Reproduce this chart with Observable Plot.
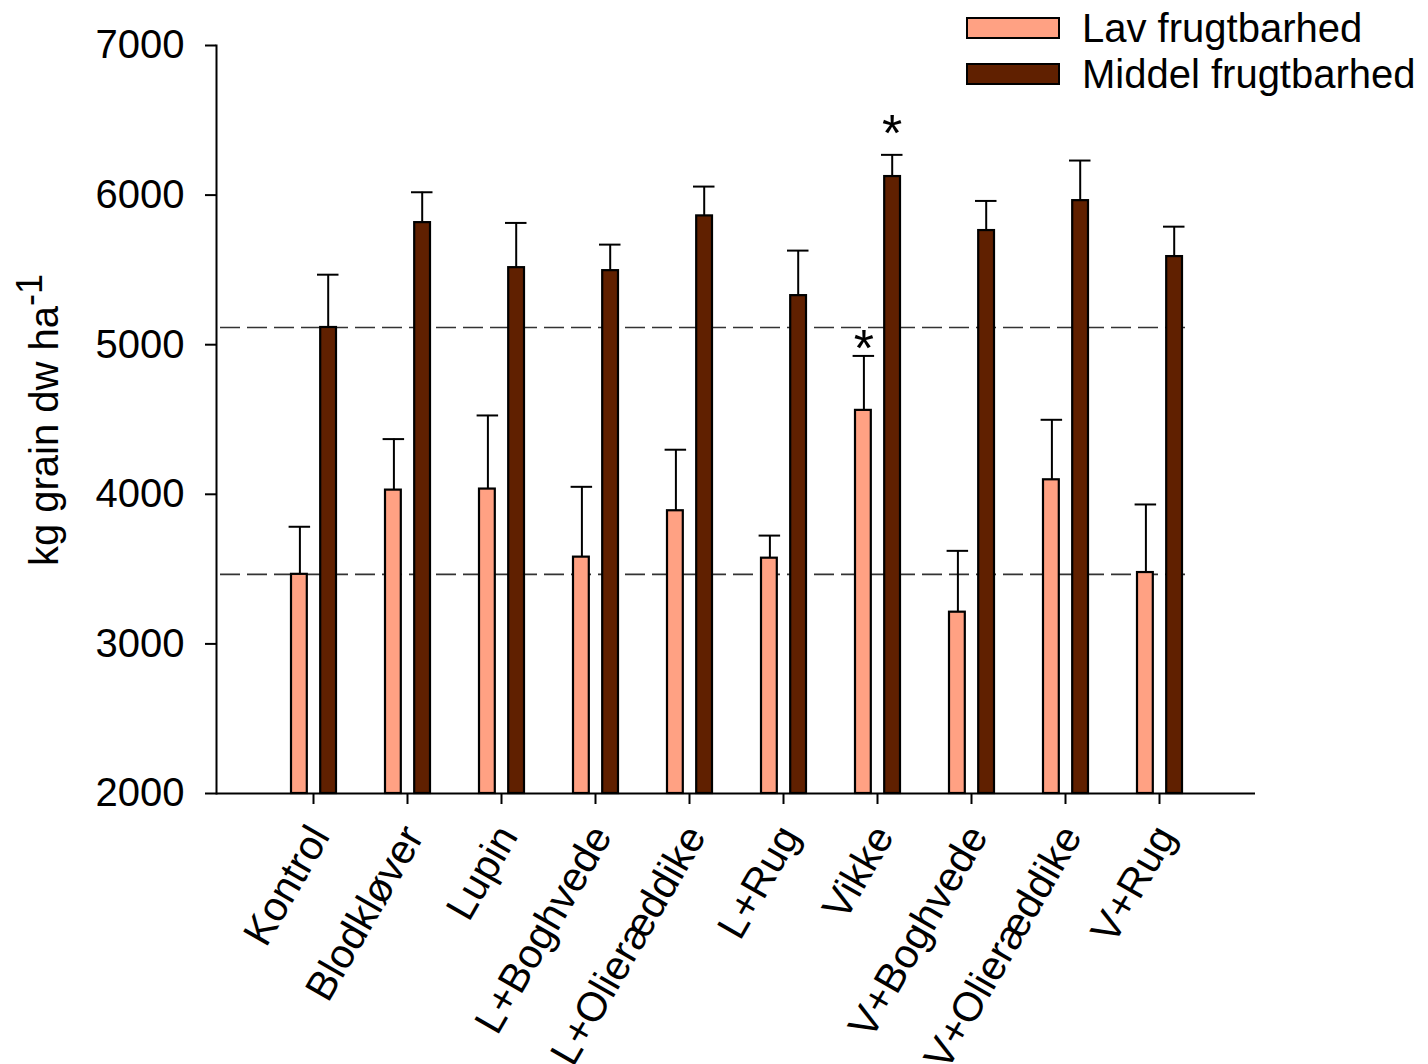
<!DOCTYPE html>
<html><head><meta charset="utf-8">
<script src="https://cdn.jsdelivr.net/npm/d3@7"></script>
<script src="https://cdn.jsdelivr.net/npm/@observablehq/plot@0.6"></script>
<style>
body{margin:0;background:#fff;font-family:"Liberation Sans",Arial,sans-serif;}
#wrap{position:relative;width:1428px;height:1064px;overflow:hidden;}
#legend{position:absolute;left:966px;top:5px;font-size:40px;color:#000;}
.row{display:flex;align-items:center;height:46px;}
.sw{width:90px;height:18px;border:2px solid #000;margin-right:22px;}
</style></head><body><div id="wrap"><div id="chart"></div><div id="legend"></div></div>
<script>
const categories = ["Kontrol","Blodkløver","Lupin","L+Boghvede","L+Olieræddike","L+Rug","Vikke","V+Boghvede","V+Olieræddike","V+Rug"];
const lowMean = [3465, 4028, 4035, 3580, 3890, 3573, 4561, 3212, 4097, 3477];
const lowSE   = [318, 341, 492, 470, 408, 151, 364, 410, 401, 455];
const highMean = [5115, 5816, 5515, 5495, 5861, 5328, 6124, 5763, 5963, 5589];
const highSE   = [353, 203, 299, 174, 196, 301, 145, 198, 268, 200];
const lowSig  = ["", "", "", "", "", "", "*", "", "", ""];
const highSig = ["", "", "", "", "", "", "*", "", "", ""];
const seriesNames = ["Lav frugtbarhed", "Middel frugtbarhed"];
const seriesColors = ["#FFA183", "#602000"];
const yTicks = [2000, 3000, 4000, 5000, 6000, 7000];
const refLines = [lowMean[0], highMean[0]];
const base = yTicks[0];

const rows = categories.map((c, i) => ({cat: c, low: lowMean[i], lowTop: lowMean[i] + lowSE[i], high: highMean[i], highTop: highMean[i] + highSE[i], lowSig: lowSig[i], highSig: highSig[i]}));

const chart = Plot.plot({
  width: 1428, height: 1064,
  marginLeft: 216, marginRight: 173, marginTop: 45, marginBottom: 271,
  style: {fontFamily: "'Liberation Sans', Arial, sans-serif", fontSize: "40px", color: "#000", background: "#fff"},
  x: {type: "band", domain: categories, paddingInner: 0, paddingOuter: 0.5, axis: null},
  y: {domain: [yTicks[0], yTicks[yTicks.length - 1]], axis: null},
  marks: [
    Plot.ruleY(refLines, {stroke: "#333", strokeWidth: 1.6, strokeDasharray: "20,7", insetLeft: 4, insetRight: 67}),
    Plot.ruleX(rows, {x: "cat", y1: "low", y2: "lowTop", dx: -13.6, stroke: "#000", strokeWidth: 2}),
    Plot.tickY(rows, {x: "cat", y: "lowTop", insetLeft: 22.6, insetRight: 49.9, stroke: "#000", strokeWidth: 2}),
    Plot.ruleX(rows, {x: "cat", y1: "high", y2: "highTop", dx: 14.7, stroke: "#000", strokeWidth: 2}),
    Plot.tickY(rows, {x: "cat", y: "highTop", insetLeft: 51, insetRight: 21.5, stroke: "#000", strokeWidth: 2}),
    Plot.barY(rows, {x: "cat", y1: base, y2: "low", fill: seriesColors[0], stroke: "#000", strokeWidth: 2.2, insetLeft: 25, insetRight: 53.2}),
    Plot.barY(rows, {x: "cat", y1: base, y2: "high", fill: seriesColors[1], stroke: "#000", strokeWidth: 2.2, insetLeft: 54.2, insetRight: 24}),
    Plot.text(rows, {x: "cat", y: "lowTop", text: "lowSig", dx: -13.6, dy: -7, fontSize: 52, lineAnchor: "middle"}),
    Plot.text(rows, {x: "cat", y: "highTop", text: "highSig", dx: 14.7, dy: -20, fontSize: 52, lineAnchor: "middle"}),
    Plot.ruleY([base], {stroke: "#000", strokeWidth: 2}),
    Plot.frame({anchor: "left", stroke: "#000", strokeWidth: 2}),
    Plot.axisY({ticks: yTicks, tickFormat: "d", tickSize: 11, tickPadding: 21, strokeWidth: 2, fontSize: 40, label: null}),
    Plot.axisX({tickSize: 11, tickFormat: () => "", strokeWidth: 2, label: null}),
    Plot.axisX({tickSize: 0, tickRotate: -60, tickPadding: 0, dx: 6, dy: 36, fontSize: 41, label: null})
  ]
});
document.getElementById("chart").appendChild(chart);

// y-axis title with superscript
const svg = d3.select(chart);
const t = svg.append("text")
  .attr("transform", "translate(58,420) rotate(-90)")
  .attr("text-anchor", "middle")
  .attr("font-size", 40)
  .attr("fill", "#000");
t.append("tspan").text("kg grain dw ha");
t.append("tspan").attr("dy", -16).attr("font-size", 36).text("-1");

// legend
const lg = d3.select("#legend");
seriesNames.forEach((n, i) => {
  const r = lg.append("div").attr("class", "row");
  r.append("div").attr("class", "sw").style("background", seriesColors[i]);
  r.append("span").text(n);
});
</script></body></html>
